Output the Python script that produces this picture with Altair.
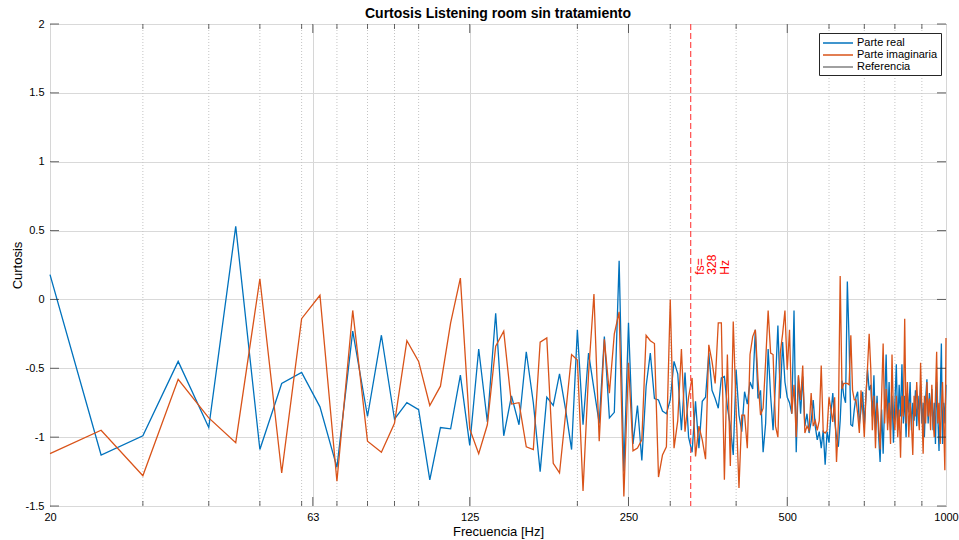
import altair as alt
import pandas as pd

# ---------------- data ----------------
freqs = list(range(20, 1001, 5))  # FFT bins, 5 Hz apart

parte_real = [
    0.18, -1.13, -0.99, -0.45, -0.93, 0.53, -1.09, -0.61, -0.53, -0.78,
    -1.22, -0.23, -0.85, -0.26, -0.87, -0.75, -0.80, -1.31, -0.93, -0.94,
    -0.55, -1.06, -0.36, -0.89, -0.10, -0.99, -0.70, -0.91, -0.38, -0.75,
    -1.25, -0.71, -0.77, -0.54, -0.80, -1.09, -0.22, -0.91, -0.39, -0.65,
    -0.90, -0.27, -0.86, -0.82, 0.28, -1.25, -0.17, -1.05, -0.77, -1.17,
    -0.63, -0.39, -0.72, -0.73, -0.81, -0.83, -0.73, -0.45, -0.54, -0.95,
    -0.53, -1.00, -1.11, -0.74, -1.08, -0.74, -0.71, -0.39, -0.66, -0.72,
    -0.79, -0.57, -0.56, -0.78, -0.92, -1.13, -0.51, -0.84, -0.96, -0.67,
    -0.76, -0.60, -0.65, -0.22, -0.72, -0.66, -1.11, -0.90, -0.36, -0.70,
    -0.95, -0.60, -0.19, -0.72, -0.31, -0.60, -0.71, -0.75, -0.83, -0.08,
    -1.11, -0.56, -0.83, -0.56, -0.92, -0.83, -0.97, -0.89, -0.73, -0.92,
    -1.02, -0.96, -1.08, -0.95, -1.20, -0.96, -1.04, -0.83, -0.68, -0.88,
    -1.00, -1.07, -0.88, -0.59, -0.70, -0.75, 0.13, -0.30, -0.91, -0.92,
    -0.80, -0.71, -0.67, -0.91, -0.80, -0.67, -0.92, -0.70, -0.51, -0.66,
    -0.62, -0.85, -0.55, -0.95, -0.70, -0.98, -1.18, -0.80, -1.12, -0.75,
    -0.40, -0.90, -0.60, -0.95, -0.70, -1.04, -0.75, -0.47, -0.95, -0.62,
    -0.85, -0.47, -0.90, -0.70, -1.00, -0.68, -0.82, -0.60, -0.95, -0.75,
    -0.88, -0.66, -0.92, -0.70, -0.85, -0.62, -0.90, -0.75, -1.00, -0.72,
    -0.58, -0.90, -0.68, -0.85, -0.65, -0.95, -0.75, -1.05, -0.60, -0.85,
    -1.10, -0.70, -0.32, -1.05, -0.75, -0.90, -0.62,
]

parte_imaginaria = [
    -1.12, -0.95, -1.28, -0.58, -0.86, -1.04, 0.15, -1.26, -0.14, 0.03,
    -1.32, -0.08, -1.03, -1.11, -0.90, -0.30, -0.45, -0.77, -0.63, -0.17,
    0.155, -0.94, -1.12, -0.91, -0.34, -0.23, -0.76, -0.75, -1.07, -1.09,
    -0.31, -0.28, -1.19, -1.26, -0.83, -0.40, -0.44, -1.39, -0.54, 0.04,
    -1.03, -0.29, -0.68, -0.25, -0.09, -1.43, -0.46, -1.10, -1.08, -1.02,
    -0.26, -0.30, -0.32, -1.29, -1.13, -1.07, 0.00, -1.08, -0.88, -0.36,
    -0.96, -0.71, -0.57, -1.14, -0.92, -1.02, -1.16, -0.33, -0.45, -0.61,
    -0.17, -0.17, -1.31, -0.40, -1.21, -0.16, -0.80, -1.37, -0.84, -0.84,
    -1.08, -0.40, -0.27, -0.22, -0.58, -0.84, -0.79, -0.45, -0.08, -0.39,
    -0.40, -0.92, -1.00, -0.39, -0.25, -0.08, -0.51, -0.22, -0.83, -0.62,
    -1.00, -0.55, -0.73, -0.48, -0.97, -0.92, -0.95, -0.68, -0.92, -0.88,
    -0.95, -0.88, -0.48, -0.96, -0.97, -0.95, -0.71, -0.80, -0.89, -0.71,
    -1.18, -0.90, 0.17, -0.65, -0.61, -0.61, -0.61, -0.62, -0.26, -0.66,
    -0.73, -0.73, -0.83, -0.97, -0.66, -0.80, -1.00, -0.70, -0.49, -0.25,
    -0.50, -0.95, -0.70, -1.08, -0.75, -0.90, -1.09, -0.70, -0.32, -0.90,
    -0.65, -0.95, -0.75, -1.05, -0.40, -0.85, -0.95, -0.70, -1.00, -0.80,
    -1.15, -0.70, -0.85, -0.14, -0.90, -0.60, -1.00, -0.75, -0.90, -1.13,
    -0.70, -0.85, -0.60, -0.80, -0.95, -0.46, -0.80, -1.12, -0.70, -0.90,
    -0.60, -0.85, -0.72, -0.95, -0.62, -0.88, -1.00, -0.70, -0.38, -0.90,
    -0.75, -1.05, -0.80, -0.60, -0.90, -1.24, -0.28,
]

series_names = ["Parte real", "Parte imaginaria", "Referencia"]
series_colors = ["#0072BD", "#D95319", "#808080"]

x_major_ticks = [20, 63, 125, 250, 500, 1000]
x_inner_major = [63, 125, 250, 500]
x_minor_ticks = [30, 40, 50, 60, 70, 80, 90, 100, 200, 300, 400, 600, 700, 800, 900]
y_ticks = [-1.5, -1, -0.5, 0, 0.5, 1, 1.5, 2]

fs_value = 328
fs_label_y = 0.18
fs_label = ["fs=", str(fs_value), "Hz"]

title_text = "Curtosis Listening room sin tratamiento"
x_title = "Frecuencia [Hz]"
y_title = "Curtosis"

n = len(freqs)
assert len(parte_real) == n and len(parte_imaginaria) == n

df = pd.DataFrame({
    "f": freqs + freqs,
    "v": parte_real + parte_imaginaria,
    "serie": [series_names[0]] * n + [series_names[1]] * n,
})

FONT = "Liberation Sans"
AXC = "#262626"

xscale = alt.Scale(type="log", domain=[20, 1000], nice=False)
yscale = alt.Scale(domain=[-1.5, 2], nice=False, zero=False)

x_axis = alt.Axis(
    values=x_major_ticks,
    labelExpr="'' + datum.value",
    title=x_title,
    grid=True,
    gridColor="#d6d6d6",
    ticks=False,
    domain=False,
    labelFontSize=11,
    labelFont=FONT,
    labelColor="#000000",
    labelPadding=5,
    labelFlush=False,
    labelOverlap=False,
    titleFont=FONT,
    titleFontSize=13,
    titleFontWeight="normal",
    titleColor="#000000",
    titlePadding=3,
)
y_axis = alt.Axis(
    values=y_ticks,
    labelExpr="'' + datum.value",
    title=y_title,
    grid=True,
    gridColor="#d9d9d9",
    ticks=False,
    domain=False,
    labelFontSize=11,
    labelFont=FONT,
    labelColor="#000000",
    labelPadding=6,
    labelOverlap=False,
    titleFont=FONT,
    titleFontSize=13,
    titleFontWeight="normal",
    titleColor="#000000",
    titlePadding=1,
)

X = alt.X("f:Q", scale=xscale, axis=x_axis)
Y = alt.Y("v:Q", scale=yscale, axis=y_axis)

color = alt.Color(
    "serie:N",
    scale=alt.Scale(domain=series_names, range=series_colors),
    legend=alt.Legend(
        title=None,
        orient="none",
        legendX=769,
        legendY=9,
        direction="vertical",
        strokeColor=AXC,
        fillColor="white",
        padding=3,
        symbolType="M-1,0H4",
        symbolSize=144,
        symbolStrokeWidth=1.5,
        labelOffset=21,
        labelFontSize=11,
        labelFont=FONT,
        labelColor="#000000",
        rowPadding=0,
        cornerRadius=0,
    ),
)

# minor dotted grid
minor_grid = alt.Chart(pd.DataFrame({"f": x_minor_ticks})).mark_rule(
    color="#c4c4c4", strokeDash=[1, 2], strokeWidth=1
).encode(x=X)

# data lines
real_line = alt.Chart(df).transform_filter(
    alt.datum.serie == series_names[0]
).mark_line(strokeWidth=1.3).encode(x=X, y=Y, color=color)

imag_line = alt.Chart(df).transform_filter(
    alt.datum.serie == series_names[1]
).mark_line(strokeWidth=1.3).encode(x=X, y=Y, color=color)

# fs marker
fs_rule = alt.Chart(pd.DataFrame({"f": [fs_value]})).mark_rule(
    color="#ff4d4d", strokeDash=[6, 3], strokeWidth=1.2
).encode(x=X)

fs_text = alt.Chart(pd.DataFrame({"f": [fs_value], "v": [fs_label_y]})).mark_text(
    text=fs_label, angle=270, align="left", baseline="top", dy=4,
    fontSize=12, lineHeight=12.5, font=FONT, color="#ff0000",
).encode(x=X, y=Y)

# inward ticks (MATLAB style)
def xticks(freq_list, size, bottom):
    edge = pd.DataFrame({"f": freq_list, "v": [-1.5 if bottom else 2] * len(freq_list)})
    return alt.Chart(edge).mark_tick(
        orient="vertical", size=size, thickness=1, color=AXC,
        yOffset=(-size / 2 if bottom else size / 2),
    ).encode(x=X, y=Y)

def yticks(left):
    edge = pd.DataFrame({"v": y_ticks, "f": [20 if left else 1000] * len(y_ticks)})
    return alt.Chart(edge).mark_tick(
        orient="horizontal", size=9, thickness=1, color=AXC,
        xOffset=(4.5 if left else -4.5),
    ).encode(x=X, y=Y)

chart = alt.layer(
    minor_grid,
    real_line,
    imag_line,
    fs_rule,
    fs_text,
    xticks(x_minor_ticks, 5, True),
    xticks(x_minor_ticks, 5, False),
    xticks(x_inner_major, 9, True),
    xticks(x_inner_major, 9, False),
    yticks(True),
    yticks(False),
).properties(
    width=896,
    height=482,
    title=alt.TitleParams(
        title_text, fontSize=14, fontWeight="bold", font=FONT,
        color="#000000", offset=3, dy=6, anchor="middle", frame="group",
    ),
    autosize=alt.AutoSizeParams(type="none"),
    padding={"left": 50, "top": 24, "right": 13, "bottom": 34},
    background="white",
).configure_view(
    stroke=AXC, strokeWidth=1
)

chart.save("out.html", embed_options={"renderer": "svg", "actions": False})
